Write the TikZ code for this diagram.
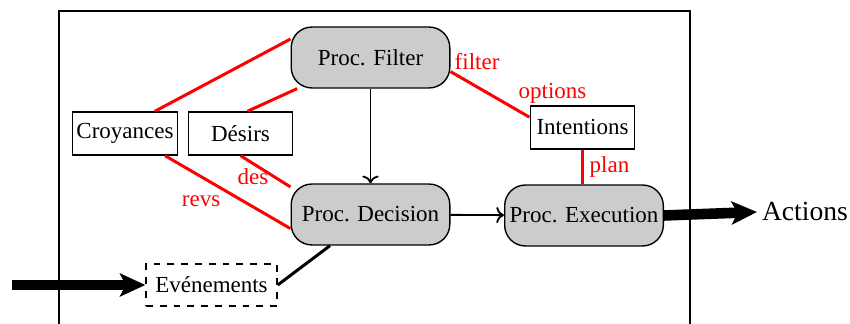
\documentclass[tikz,border=0pt]{standalone}
\usepackage{fontspec}
\setmainfont{Liberation Serif}
\usetikzlibrary{arrows.meta, positioning}

\begin{document}
\begin{tikzpicture}[
  x=0.435pt, y=0.435pt,
  proc/.style={draw, semithick, fill=black!20, rounded corners=9pt, minimum width=69pt, minimum height=26.5pt, inner sep=1pt},
  base/.style={draw, semithick, minimum width=45.5pt, minimum height=18.7pt, inner sep=1pt},
  lien/.style={red, line width=1.3pt},
  lab/.style={red, inner sep=1.5pt},
  flux/.style={line width=4.6pt, -{Stealth[length=11pt, width=10pt, inset=2.5pt]}}
]
\useasboundingbox (0,0) rectangle (850,324);
\draw[semithick] (59,-20) rectangle (690,313);

% processus
\node[proc] (filter) at (370.5,266.5) {Proc. Filter};
\node[proc] (decision) at (370.5,109.5) {Proc. Decision};
\node[proc] (exec) at (584,108.5) {Proc. Execution};

% bases
\node[base] (croy) at (125,190.5) {Croyances};
\node[base] (desirs) at (240.5,190.5) {Désirs};
\node[base] (intent) at (582.5,196.5) {Intentions};
\node[base, dashed, minimum width=57pt, minimum height=18.3pt] (evt) at (211.5,39) {Evénements};
\node[font=\large, anchor=west, inner sep=2pt] (actions) at (757,112) {Actions};
\coordinate (entree) at (12,39);

% liens
\draw[lien] ([xshift=13pt]croy.north) -- (filter.167);
\draw[lien] ([xshift=3pt]desirs.north) -- (filter.203);
\draw[lien] ([xshift=17.4pt]croy.south) -- node[lab, pos=0.48, below left] {revs} (decision.190);
\draw[lien] (desirs.south) -- node[lab, pos=0.25, below] {des} (decision.161);
\draw[lien] (filter.-10) -- node[lab, pos=0.02, above right, inner sep=0.5pt] {filter}
  node[lab, pos=0.8, above right] {options} (intent.169);
\draw[lien] (intent.south) -- node[lab, right, xshift=1pt] {plan} (intent.south |- exec.north);

\draw[thick, ->] (filter) -- (decision);
\draw[thick, ->] (decision) -- (exec);
\draw[line width=1.3pt] ([xshift=-17.6pt]decision.south) -- (evt.east);
\draw[flux] (entree) -- (evt.west);
\draw[flux] (exec.east) -- (actions.west);
\end{tikzpicture}
\end{document}
